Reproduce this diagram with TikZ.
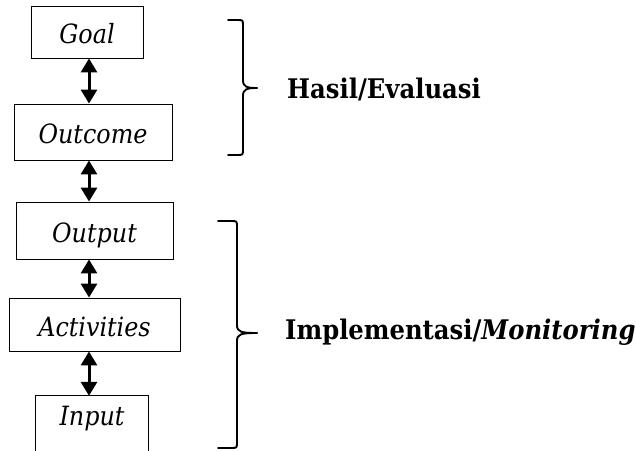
\documentclass[tikz,border=0pt]{standalone}
\usepackage{fontspec}
\setmainfont{DejaVu Serif Condensed}
\usetikzlibrary{arrows.meta}
\tikzset{
  box/.style={draw=black, line width=0.9pt, inner sep=0pt, text height=23pt, text depth=0pt, font=\fontsize{26.5}{30}\selectfont\itshape},
  openbox/.style={inner sep=0pt, text height=23pt, text depth=0pt, font=\fontsize{26.5}{30}\selectfont\itshape},
  dbl/.style={line width=3pt, {Triangle[width=16pt,length=14pt]}-{Triangle[width=16pt,length=14pt]}},
  brace/.style={line width=1.9pt, line cap=round},
  lbl/.style={anchor=base west, inner sep=0pt, font=\fontsize{27}{30}\selectfont\bfseries}
}
\begin{document}
\begin{tikzpicture}[x=1pt, y=-1pt]
  \useasboundingbox (0,0) rectangle (636,450);

  % chain of result levels
  \node[box, minimum width=112pt, minimum height=52pt] (goal) at (87,32) {Goal};
  \node[box, minimum width=158pt, minimum height=56pt] (outcome) at (93,132) {Outcome};
  \node[box, minimum width=157pt, minimum height=57pt] (output) at (94.5,230.5) {Output};
  \node[box, minimum width=171pt, minimum height=53pt] (activities) at (94.5,324.5) {Activities};
  \node[openbox, minimum width=112pt, minimum height=35pt] (input) at (92,413.5) {Input};
  % the last box runs off the bottom edge, so it has no lower side
  \coordinate (floor) at (0,453);
  \draw[line width=0.9pt] (input.north west |- floor) -- (input.north west)
     -- (input.north east) -- (input.north east |- floor);

  % two-way links between levels
  \coordinate (ax) at (89,0);
  \draw[dbl] (goal.south -| ax) -- (outcome.north -| ax);
  \draw[dbl] (outcome.south -| ax) -- (output.north -| ax);
  \draw[dbl] (output.south -| ax) -- (activities.north -| ax);
  \draw[dbl] (activities.south -| ax) -- (input.north -| ax);

  % upper brace
  \coordinate (tipA) at (257,88);
  \draw[brace] (228,20) -- (237,20) .. controls (243,20) .. (243,26) -- (243,80)
     .. controls (243,87) and (247,88) .. (tipA);
  \draw[brace] (tipA) .. controls (247,88) and (243,89) .. (243,96) -- (243,149)
     .. controls (243,155) .. (237,155) -- (228,155);
  \node[lbl] (eval) at (287,98) {Hasil/Evaluasi};

  % lower brace
  \coordinate (tipB) at (257,333);
  \draw[brace] (218,221) -- (231,221) .. controls (237,221) .. (237,227) -- (237,325)
     .. controls (237,332) and (241,333) .. (tipB);
  \draw[brace] (tipB) .. controls (241,333) and (237,334) .. (237,341) -- (237,442)
     .. controls (237,448) .. (231,448) -- (218,448);
  \node[lbl] (impl) at (285,339) {Implementasi/\textit{Monitoring}};
\end{tikzpicture}
\end{document}
